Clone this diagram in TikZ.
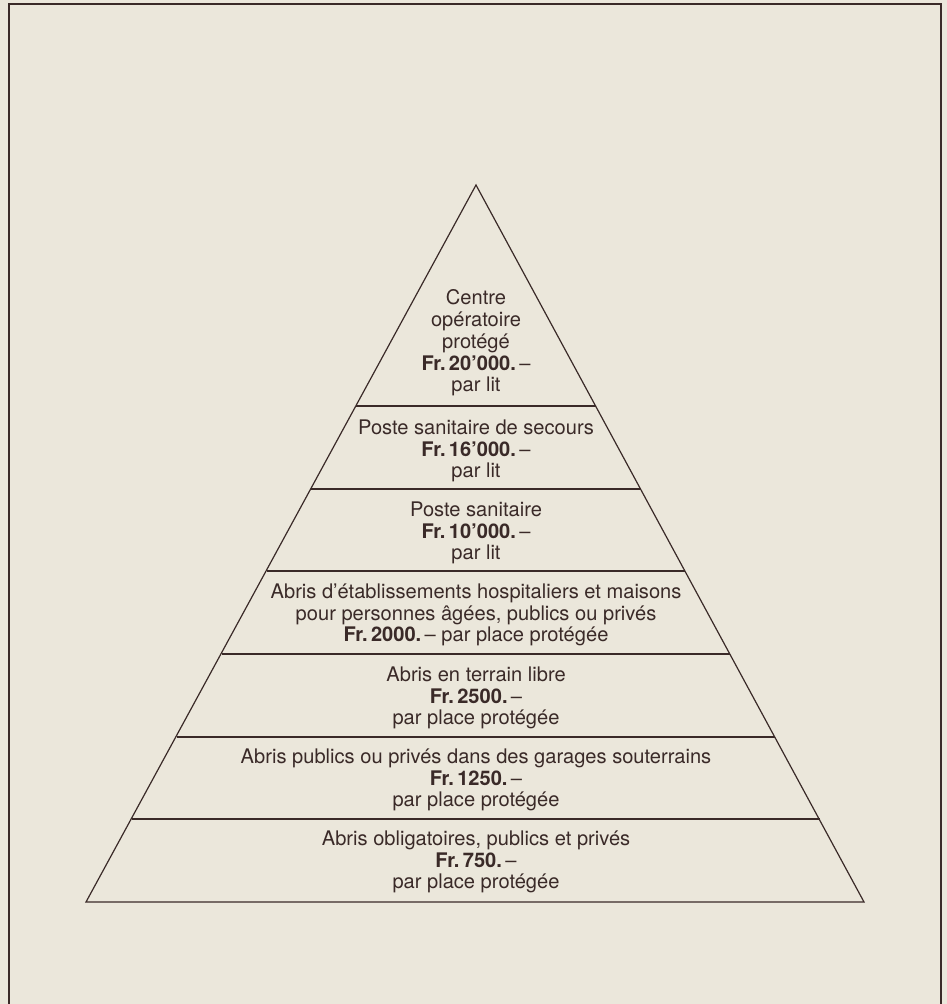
\documentclass[tikz,border=0pt]{standalone}
\usepackage{fontspec}
\setmainfont{TeX Gyre Heros}
\definecolor{paper}{RGB}{235,231,219}
\definecolor{ink}{RGB}{58,42,40}
\begin{document}
\begin{tikzpicture}[x=1pt, y=-1pt,
        tier/.style={align=center, text=ink, inner sep=0pt, font=\fontsize{20.1}{21.7}\selectfont},
        edge/.style={draw=ink, line width=1.2pt}]
    \fill[paper] (0,0) rectangle (947,1004);
    \useasboundingbox (0,0) rectangle (947,1004);
    \draw[edge] (9,1004) -- (9,4) -- (941,4) -- (941,1004);
    \coordinate (apex) at (476,185);
    \coordinate (bl) at (86,902);
    \coordinate (br) at (864,902);
    \draw[edge] (apex) -- (bl) -- (br) -- cycle;
    \foreach \y in {406,489,571,654,737,819}
        \draw[edge] ({476-0.5425*(\y-185)},\y) -- ({476+0.5425*(\y-185)},\y);
    \node[tier] (op) at (476,343) {Centre\\opératoire\\protégé\\\textbf{Fr.\,20’000.}\,–\\par lit};
    \node[tier] (secours) at (476,451) {Poste sanitaire de secours\\\textbf{Fr.\,16’000.}\,–\\par lit};
    \node[tier] (poste) at (476,533) {Poste sanitaire\\\textbf{Fr.\,10’000.}\,–\\par lit};
    \node[tier] (hosp) at (476,615) {Abris d’établissements hospitaliers et maisons\\pour personnes âgées, publics ou privés\\\textbf{Fr.\,2000.}\,– par place protégée};
    \node[tier] (libre) at (476,698) {Abris en terrain libre\\\textbf{Fr.\,2500.}\,–\\par place protégée};
    \node[tier] (garage) at (476,780) {Abris publics ou privés dans des garages souterrains\\\textbf{Fr.\,1250.}\,–\\par place protégée};
    \node[tier] (oblig) at (476,862) {Abris obligatoires, publics et privés\\\textbf{Fr.\,750.}\,–\\par place protégée};
\end{tikzpicture}
\end{document}
